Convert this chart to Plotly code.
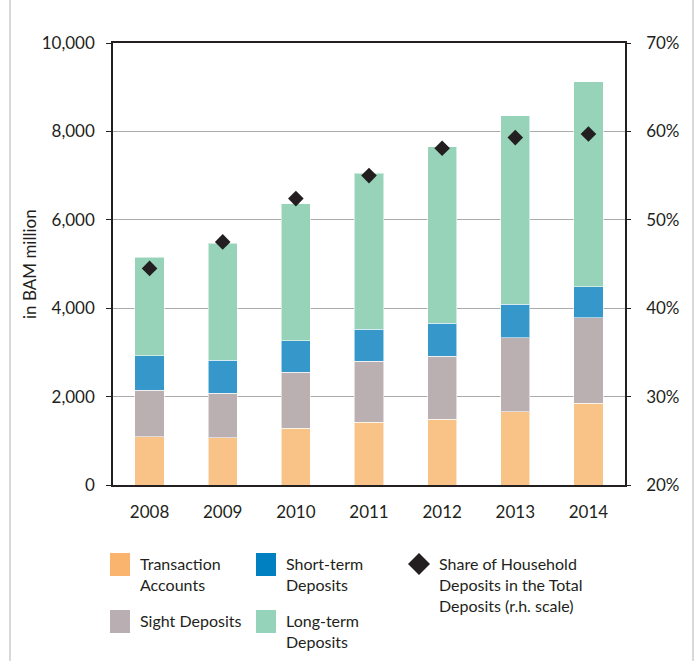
import plotly.graph_objects as go

years = ["2008", "2009", "2010", "2011", "2012", "2013", "2014"]
transaction_accounts = [1093, 1071, 1282, 1418, 1486, 1659, 1848]
sight_deposits = [1056, 1003, 1267, 1387, 1425, 1667, 1938]
short_term_deposits = [770, 754, 716, 724, 746, 769, 701]
long_term_deposits = [2232, 2640, 3100, 3522, 3998, 4261, 4631]
household_share = [44.5, 47.5, 52.4, 55.0, 58.1, 59.3, 59.7]

left_ticks = [0, 2000, 4000, 6000, 8000, 10000]
left_tick_text = ["0", "2,000", "4,000", "6,000", "8,000", "10,000"]
right_ticks = [20, 30, 40, 50, 60, 70]
right_tick_text = ["20%", "30%", "40%", "50%", "60%", "70%"]

FONT = "Lato"
FS = 17
LEG_FS = 16
INK = "#231f20"

W, H = 696, 661
ML, MR, MT, MB = 113, 71, 43, 176
PW, PH = W - ML - MR, H - MT - MB


def px(x):
    return (x - ML) / PW


def py(y):
    return (H - MB - y) / PH


series = [
    ("Transaction Accounts", transaction_accounts, "#f9c388"),
    ("Sight Deposits", sight_deposits, "#bab0b2"),
    ("Short-term Deposits", short_term_deposits, "#3597ca"),
    ("Long-term Deposits", long_term_deposits, "#96d3b9"),
]

fig = go.Figure()
for name, vals, col in series:
    fig.add_trace(go.Bar(
        x=years, y=vals, name=name, marker_color=col,
        marker_line=dict(color="rgba(255,255,255,0.55)", width=1),
        showlegend=False,
    ))

fig.add_trace(go.Scatter(
    x=years, y=household_share, yaxis="y2", mode="markers",
    name="Share of Household Deposits in the Total Deposits (r.h. scale)",
    marker=dict(symbol="diamond", size=12, color=INK),
    showlegend=False,
))

axis_font = dict(family=FONT, size=FS, color=INK)

fig.update_layout(
    width=W, height=H,
    margin=dict(l=ML, r=MR, t=MT, b=MB),
    paper_bgcolor="white", plot_bgcolor="white",
    barmode="stack", bargap=0.6,
    font=dict(family=FONT, size=FS, color=INK),
    xaxis=dict(
        type="category", showgrid=False, showline=True, linecolor=INK,
        linewidth=1.5, mirror=True, ticks="", tickfont=axis_font,
        ticklabelstandoff=11,
    ),
    yaxis=dict(
        range=[0, 10000], tickvals=left_ticks, ticktext=left_tick_text,
        showgrid=True, gridcolor="#ababab", gridwidth=1,
        showline=True, linecolor=INK, linewidth=1.5,
        ticks="outside", ticklen=5, tickcolor=INK, tickwidth=1,
        tickfont=axis_font, ticklabelstandoff=8, zeroline=False,
    ),
    yaxis2=dict(
        range=[20, 70], tickvals=right_ticks, ticktext=right_tick_text,
        overlaying="y", side="right", showgrid=False,
        showline=True, linecolor=INK, linewidth=1.5,
        ticks="outside", ticklen=4, tickcolor=INK, tickwidth=1,
        tickfont=axis_font, ticklabelstandoff=12, zeroline=False,
    ),
)

shapes = []
annotations = []

# outer frame: vertical rules on both sides
for xpix in (10, 693):
    shapes.append(dict(type="line", xref="paper", yref="paper",
                       x0=px(xpix), x1=px(xpix), y0=py(0), y1=py(H),
                       line=dict(color="#cccccc", width=1.5)))

# left axis title
annotations.append(dict(
    text="in BAM million", xref="paper", yref="paper",
    x=px(29), y=py(264), xanchor="center", yanchor="middle",
    textangle=-90, showarrow=False,
    font=dict(family=FONT, size=FS, color=INK),
))

# legend swatches and labels
legend_items = [
    (110, 553, "#fbb46e", "Transaction<br>Accounts"),
    (110, 610, "#b9aeb1", "Sight Deposits"),
    (256, 553, "#0080c0", "Short-term<br>Deposits"),
    (256, 610, "#95d3ba", "Long-term<br>Deposits"),
]
for x0, y0, col, label in legend_items:
    shapes.append(dict(type="rect", xref="paper", yref="paper",
                       x0=px(x0), x1=px(x0 + 20), y0=py(y0), y1=py(y0 + 23),
                       fillcolor=col, line=dict(width=0)))
    annotations.append(dict(
        text=label, xref="paper", yref="paper", x=px(x0 + 28), y=py(y0 - 1.5),
        xanchor="left", yanchor="top", align="left", showarrow=False,
        font=dict(family=FONT, size=LEG_FS, color=INK),
    ))

cx, cy, r = 419, 564, 11
shapes.append(dict(
    type="path", xref="paper", yref="paper",
    path=(f"M {px(cx - r)} {py(cy)} L {px(cx)} {py(cy - r)} "
          f"L {px(cx + r)} {py(cy)} L {px(cx)} {py(cy + r)} Z"),
    fillcolor=INK, line=dict(width=0),
))
annotations.append(dict(
    text="Share of Household<br>Deposits in the Total<br>Deposits (r.h. scale)",
    xref="paper", yref="paper", x=px(437), y=py(551.5),
    xanchor="left", yanchor="top", align="left", showarrow=False,
    font=dict(family=FONT, size=LEG_FS, color=INK),
))

fig.update_layout(shapes=shapes, annotations=annotations)

fig.write_html("out.html")
